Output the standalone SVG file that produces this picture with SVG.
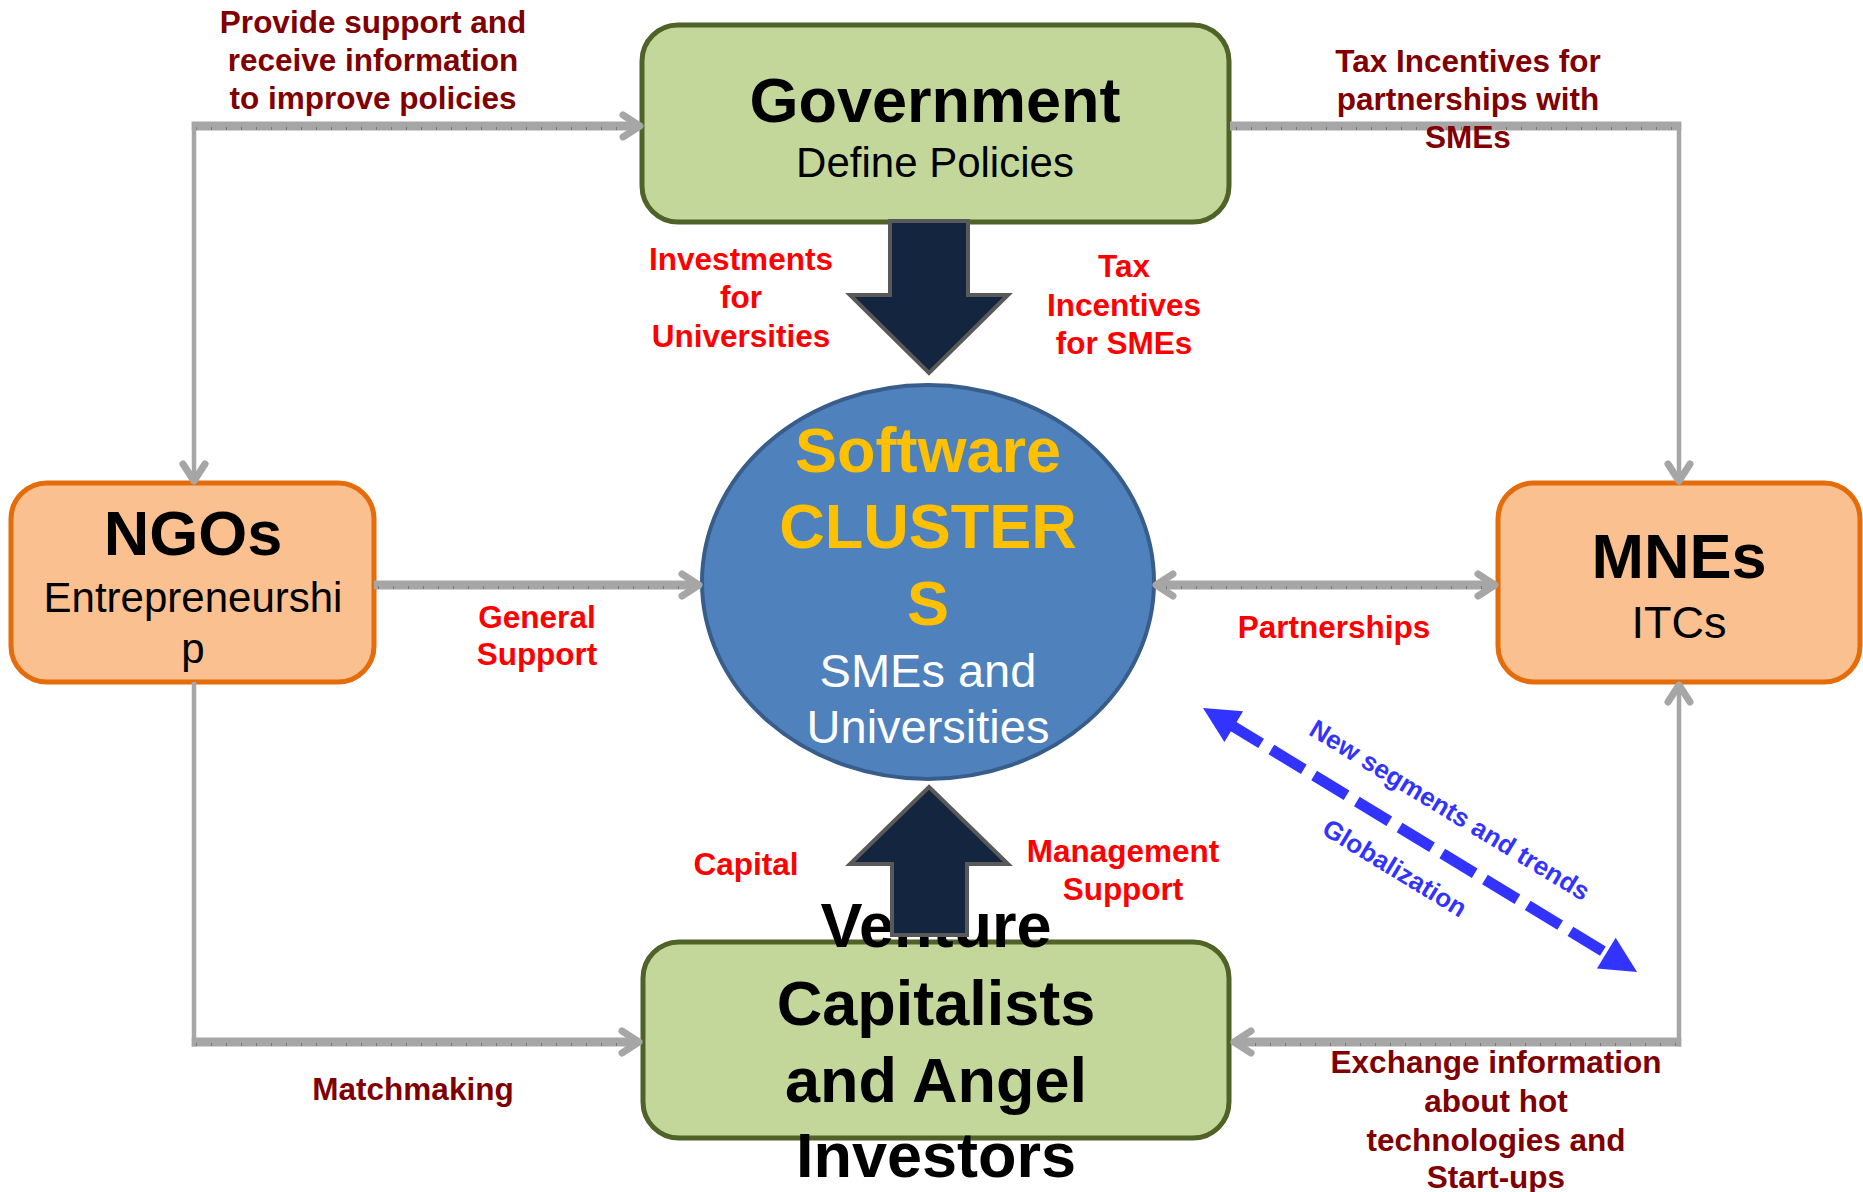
<svg xmlns="http://www.w3.org/2000/svg" width="1863" height="1192" viewBox="0 0 1863 1192">
<defs>
<style>
.ch{stroke:#a6a6a6;stroke-width:9;fill:none}
.cv{stroke:#a6a6a6;stroke-width:4.5;fill:none}
.tk{stroke:#777;stroke-width:3;stroke-dasharray:1 14;fill:none}
.green{fill:#c4d79b;stroke:#4f6228;stroke-width:5}
.orange{fill:#fac090;stroke:#e46c0a;stroke-width:5}
.block{fill:#13253f;stroke:#595959;stroke-width:4;stroke-linejoin:miter}
text{font-family:"Liberation Sans",Arial,sans-serif;text-anchor:middle}
.title{font-weight:bold;font-size:63px;fill:#000}
.sub{font-size:42px;fill:#000}
.cl{font-weight:bold;font-size:63px;fill:#ffc000}
.cw{font-size:47px;fill:#fff}
.red{font-weight:bold;font-size:31.5px;fill:#ff0000}
.dred{font-weight:bold;font-size:31.5px;fill:#800000}
.blue{font-weight:bold;font-size:26px;fill:#3333ff}
</style>
<marker id="ah" markerUnits="userSpaceOnUse" markerWidth="34" markerHeight="34" viewBox="-30 -17 34 34" refX="-5" refY="0" orient="auto-start-reverse">
<path d="M-20,-11 L-3,0 L-20,11" fill="none" stroke="#a6a6a6" stroke-width="7" stroke-linejoin="round" stroke-linecap="round"/>
</marker>
</defs>
<rect width="1863" height="1192" fill="#fff"/>

<g id="government">
<rect class="green" x="642" y="25" width="587" height="197" rx="36"/>
<text class="title" x="935" y="122">Government</text>
<text class="sub" x="935" y="177">Define Policies</text>
</g>

<g id="ngos">
<rect class="orange" x="11" y="483" width="363" height="199" rx="36"/>
<text class="title" x="193" y="555">NGOs</text>
<text class="sub" x="193" y="612">Entrepreneurshi</text>
<text class="sub" x="193" y="663">p</text>
</g>

<g id="mnes">
<rect class="orange" x="1498" y="483" width="362" height="199" rx="36"/>
<text class="title" x="1679" y="578">MNEs</text>
<text class="sub" x="1679" y="638" style="font-size:45px">ITCs</text>
</g>

<g id="cluster">
<ellipse cx="928" cy="582" rx="226" ry="197" fill="#4f81bd" stroke="#385d8a" stroke-width="4"/>
<text class="cl" x="928" y="472">Software</text>
<text class="cl" x="928" y="548">CLUSTER</text>
<text class="cl" x="928" y="625">S</text>
<text class="cw" x="928" y="687">SMEs and</text>
<text class="cw" x="928" y="743">Universities</text>
</g>

<g id="venture">
<rect class="green" x="643" y="942" width="586" height="196" rx="36"/>
<text class="title" x="936" y="947">Venture</text>
<text class="title" x="936" y="1025">Capitalists</text>
<text class="title" x="936" y="1102">and Angel</text>
<text class="title" x="936" y="1177">Investors</text>
</g>

<g id="connectors">
<path class="ch" d="M191.75,126 L638,126" marker-end="url(#ah)"/>
<path class="tk" d="M196,128.5 L630,128.5"/>
<path class="cv" d="M194,122 L194,479" marker-end="url(#ah)"/>

<path class="ch" d="M1230,126 L1681.25,126"/>
<path class="tk" d="M1236,128.5 L1676,128.5"/>
<path class="cv" d="M1679,122 L1679,479" marker-end="url(#ah)"/>

<path class="ch" d="M374,585 L697,585" marker-end="url(#ah)"/>
<path class="tk" d="M378,587.5 L690,587.5"/>

<path class="ch" d="M1158,585 L1493,585" marker-start="url(#ah)" marker-end="url(#ah)"/>
<path class="tk" d="M1166,587.5 L1486,587.5"/>

<path class="cv" d="M194,682 L194,1046.5"/>
<path class="ch" d="M191.75,1042 L637,1042" marker-end="url(#ah)"/>
<path class="tk" d="M196,1044.5 L630,1044.5"/>

<path class="cv" d="M1679,1046.5 L1679,687" marker-end="url(#ah)"/>
<path class="ch" d="M1681.25,1042 L1236,1042" marker-end="url(#ah)"/>
<path class="tk" d="M1676,1044.5 L1244,1044.5"/>

<polygon class="block" points="890,221 968,221 968,295 1008,295 929,373 850,295 890,295"/>
<polygon class="block" points="929,787 1008,864 967,864 967,935 892,935 892,864 850,864"/>

<g transform="translate(1203,708) rotate(31.3)">
<polygon points="0,0 36,-18 36,18" fill="#3333ff"/>
<line x1="30" y1="0" x2="478" y2="0" stroke="#3333ff" stroke-width="11" stroke-dasharray="38 12"/>
<polygon points="508,0 472,-18 472,18" fill="#3333ff"/>
<text class="blue" x="264" y="-32">New segments and trends</text>
<text class="blue" x="247" y="46">Globalization</text>
</g>
</g>

<g id="labels">
<text class="dred" x="373" y="33">Provide support and</text>
<text class="dred" x="373" y="71">receive information</text>
<text class="dred" x="373" y="109">to improve policies</text>

<text class="dred" x="1468" y="72">Tax Incentives for</text>
<text class="dred" x="1468" y="110">partnerships with</text>
<text class="dred" x="1468" y="148">SMEs</text>

<text class="red" x="741" y="270">Investments</text>
<text class="red" x="741" y="308">for</text>
<text class="red" x="741" y="347">Universities</text>

<text class="red" x="1124" y="277">Tax</text>
<text class="red" x="1124" y="316">Incentives</text>
<text class="red" x="1124" y="354">for SMEs</text>

<text class="red" x="537" y="628">General</text>
<text class="red" x="537" y="665">Support</text>

<text class="red" x="1334" y="638">Partnerships</text>

<text class="red" x="746" y="875">Capital</text>

<text class="red" x="1123" y="862">Management</text>
<text class="red" x="1123" y="900">Support</text>

<text class="dred" x="413" y="1100">Matchmaking</text>

<text class="dred" x="1496" y="1073">Exchange information</text>
<text class="dred" x="1496" y="1112">about hot</text>
<text class="dred" x="1496" y="1151">technologies and</text>
<text class="dred" x="1496" y="1188">Start-ups</text>
</g>
</svg>
